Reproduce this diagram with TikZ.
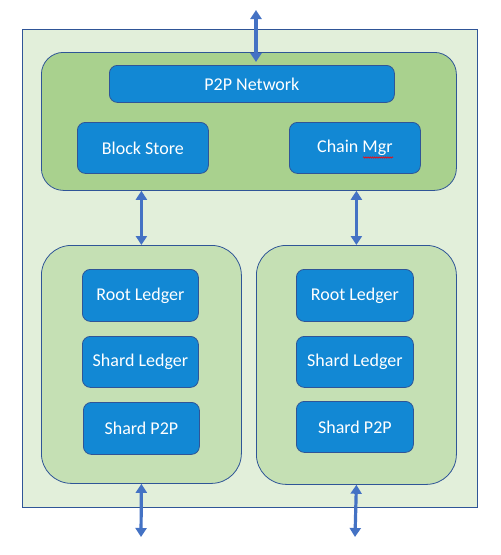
\documentclass[tikz,border=0pt]{standalone}
\usepackage{fontspec}
\setmainfont{Carlito}
\usetikzlibrary{arrows.meta,decorations.pathmorphing}
\definecolor{outerfill}{HTML}{E2EFDA}
\definecolor{topfill}{HTML}{A9D18E}
\definecolor{shardfill}{HTML}{C5E0B4}
\definecolor{boxfill}{HTML}{1288D4}
\definecolor{edgeblue}{HTML}{2F5597}
\definecolor{arrowblue}{HTML}{4472C4}
\tikzset{
  outerbox/.style={draw=edgeblue, fill=outerfill, line width=1pt},
  groupbox/.style={draw=edgeblue, line width=0.8pt},
  bluebox/.style={draw=edgeblue, fill=boxfill, line width=0.8pt, rounded corners=8pt, text=white, font=\fontsize{18}{20}\selectfont, inner sep=0pt},
  biarrow/.style={draw=arrowblue, line width=3.2pt, {Triangle[width=11pt,length=9pt]}-{Triangle[width=11pt,length=9pt]}, shorten >=0pt, shorten <=0pt}
}
\begin{document}
\begin{tikzpicture}[x=1pt,y=-1pt]
\useasboundingbox (0,0) rectangle (501,555);
% outer container
\node[outerbox, minimum width=455pt, minimum height=478pt, inner sep=0pt, anchor=north west] (outer) at (22,29) {};
% top group
\node[groupbox, fill=topfill, rounded corners=22pt, minimum width=415pt, minimum height=138pt, inner sep=0pt, anchor=north west] (top) at (41,52) {};
\node[bluebox, minimum width=285pt, minimum height=37pt, anchor=north west] (p2p) at (109,65) {P2P Network};
\node[bluebox, minimum width=131pt, minimum height=51pt, anchor=north west] (block) at (77,122) {Block Store};
\node[bluebox, minimum width=131pt, minimum height=51pt, anchor=north west] (chain) at (289,122) {Chain Mgr};
\draw[red, line width=0.6pt, decorate, decoration={snake, amplitude=0.7pt, segment length=2.2pt}] (363,157.5) -- (393,157.5);
% shard groups
\node[groupbox, fill=shardfill, rounded corners=30pt, minimum width=200pt, minimum height=238pt, inner sep=0pt, anchor=north west] (left) at (41,245) {};
\node[groupbox, fill=shardfill, rounded corners=30pt, minimum width=200pt, minimum height=239pt, inner sep=0pt, anchor=north west] (right) at (256,245) {};
% left boxes
\node[bluebox, minimum width=116pt, minimum height=52pt, anchor=north west] (lroot) at (82,269) {Root Ledger};
\node[bluebox, minimum width=116pt, minimum height=51pt, anchor=north west] (lshard) at (82,336) {Shard Ledger};
\node[bluebox, minimum width=116pt, minimum height=52pt, anchor=north west] (lp2p) at (83,402) {Shard P2P};
% right boxes
\node[bluebox, minimum width=117pt, minimum height=52pt, anchor=north west] (rroot) at (296,269) {Root Ledger};
\node[bluebox, minimum width=117pt, minimum height=51pt, anchor=north west] (rshard) at (296,336) {Shard Ledger};
\node[bluebox, minimum width=117pt, minimum height=51pt, anchor=north west] (rp2p) at (296,401) {Shard P2P};
% arrow end coordinates
\coordinate (topout) at (256,10);
\coordinate (topin) at (256,62);
\coordinate (lout) at (141,537);
\coordinate (rout) at (355,537);
% arrows
\draw[biarrow] (topout) -- (topin);
\draw[biarrow] (top.south -| left.north) -- (left.north);
\draw[biarrow] (top.south -| right.north) -- (right.north);
\draw[biarrow] (left.south) -- (lout);
\draw[biarrow] (right.south) -- (rout);
\end{tikzpicture}
\end{document}
